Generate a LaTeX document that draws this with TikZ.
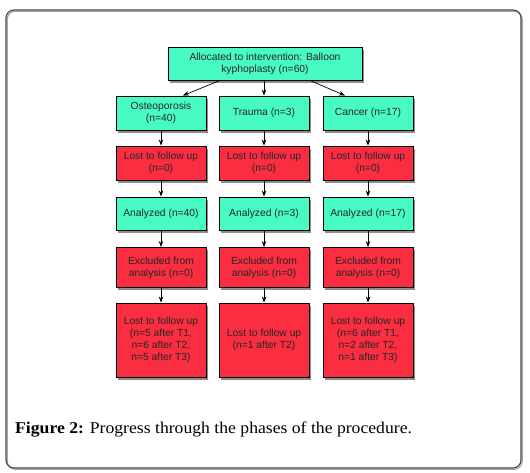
\documentclass[tikz,border=0pt]{standalone}
\usepackage{fontspec}
\usepackage{graphicx}
\setmainfont{Liberation Serif}
\newfontfamily\boxfont{Liberation Sans}
\usetikzlibrary{arrows.meta,shadows}
\definecolor{boxgreen}{RGB}{72,250,195}
\definecolor{boxred}{RGB}{250,45,65}
\definecolor{framegray}{RGB}{70,70,70}
\tikzset{
  flowbox/.style={draw=black, line width=0.9pt, align=center, inner sep=2pt,
    font=\boxfont\fontsize{10.3}{12}\selectfont, text=black!85,
    drop shadow={shadow xshift=1.5pt, shadow yshift=-2.5pt, opacity=0.45, fill=black}},
  greenbox/.style={flowbox, fill=boxgreen},
  redbox/.style={flowbox, fill=boxred},
  colbox/.style={minimum width=90pt},
  link/.style={draw=black, line width=0.7pt, -{Stealth[length=6pt,width=4.5pt]}},
}
\begin{document}
\begin{tikzpicture}[x=1pt,y=1pt]
\useasboundingbox (0,0) rectangle (530,-472);
% frame
\draw[gray!70, line width=1.2pt, rounded corners=8pt] (7.2,-11.2) rectangle (522.2,-469.2);
\draw[framegray, line width=1.1pt, rounded corners=8pt] (6,-10) rectangle (521,-468);
% top
\node[greenbox, minimum width=194pt, minimum height=33pt] (top) at (265,-63.5)
  {Allocated to intervention: Balloon\\kyphoplasty (n=60)};
% row 2
\node[greenbox, colbox, minimum height=34pt] (ost) at (161,-113) {Osteoporosis\\(n=40)};
\node[greenbox, colbox, minimum height=34pt] (tra) at (264,-113) {Trauma (n=3)};
\node[greenbox, colbox, minimum height=34pt] (can) at (368,-113) {Cancer (n=17)};
% row 3
\node[redbox, colbox, minimum height=34pt] (ost3) at (161,-163) {Lost to follow up\\(n=0)};
\node[redbox, colbox, minimum height=34pt] (tra3) at (264,-163) {Lost to follow up\\(n=0)};
\node[redbox, colbox, minimum height=34pt] (can3) at (368,-163) {Lost to follow up\\(n=0)};
% row 4
\node[greenbox, colbox, minimum height=33pt] (ost4) at (161,-213.5) {Analyzed (n=40)};
\node[greenbox, colbox, minimum height=33pt] (tra4) at (264,-213.5) {Analyzed (n=3)};
\node[greenbox, colbox, minimum height=33pt] (can4) at (368,-213.5) {Analyzed (n=17)};
% row 5
\node[redbox, colbox, minimum height=40pt] (ost5) at (161,-267.5) {Excluded from\\analysis (n=0)};
\node[redbox, colbox, minimum height=40pt] (tra5) at (264,-267.5) {Excluded from\\analysis (n=0)};
\node[redbox, colbox, minimum height=40pt] (can5) at (368,-267.5) {Excluded from\\analysis (n=0)};
% row 6
\node[redbox, colbox, minimum height=74pt] (ost6) at (161,-340) {Lost to follow up\\(n=5 after T1,\\n=6 after T2,\\n=5 after T3)};
\node[redbox, colbox, minimum height=74pt] (tra6) at (264,-340) {Lost to follow up\\(n=1 after T2)};
\node[redbox, colbox, minimum height=74pt] (can6) at (368,-340) {Lost to follow up\\(n=6 after T1,\\n=2 after T2,\\n=1 after T3)};
% arrows
\draw[link] ([xshift=-45pt]top.south) -- ([xshift=22pt]ost.north);
\draw[link] (top.south -| tra.north) -- (tra.north);
\draw[link] ([xshift=45pt]top.south) -- ([xshift=-23pt]can.north);
\foreach \c in {ost,tra,can}{
  \draw[link] (\c.south) -- (\c3.north);
  \draw[link] (\c3.south) -- (\c4.north);
  \draw[link] (\c4.south) -- (\c5.north);
  \draw[link] (\c5.south) -- (\c6.north);
}
% caption
\node[anchor=base west, inner sep=0pt, font=\fontsize{16.5}{18}\selectfont] (cap) at (15,-433)
  {\scalebox{1.07}[1]{\textbf{Figure 2:} Progress through the phases of the procedure.}};
\end{tikzpicture}
\end{document}
